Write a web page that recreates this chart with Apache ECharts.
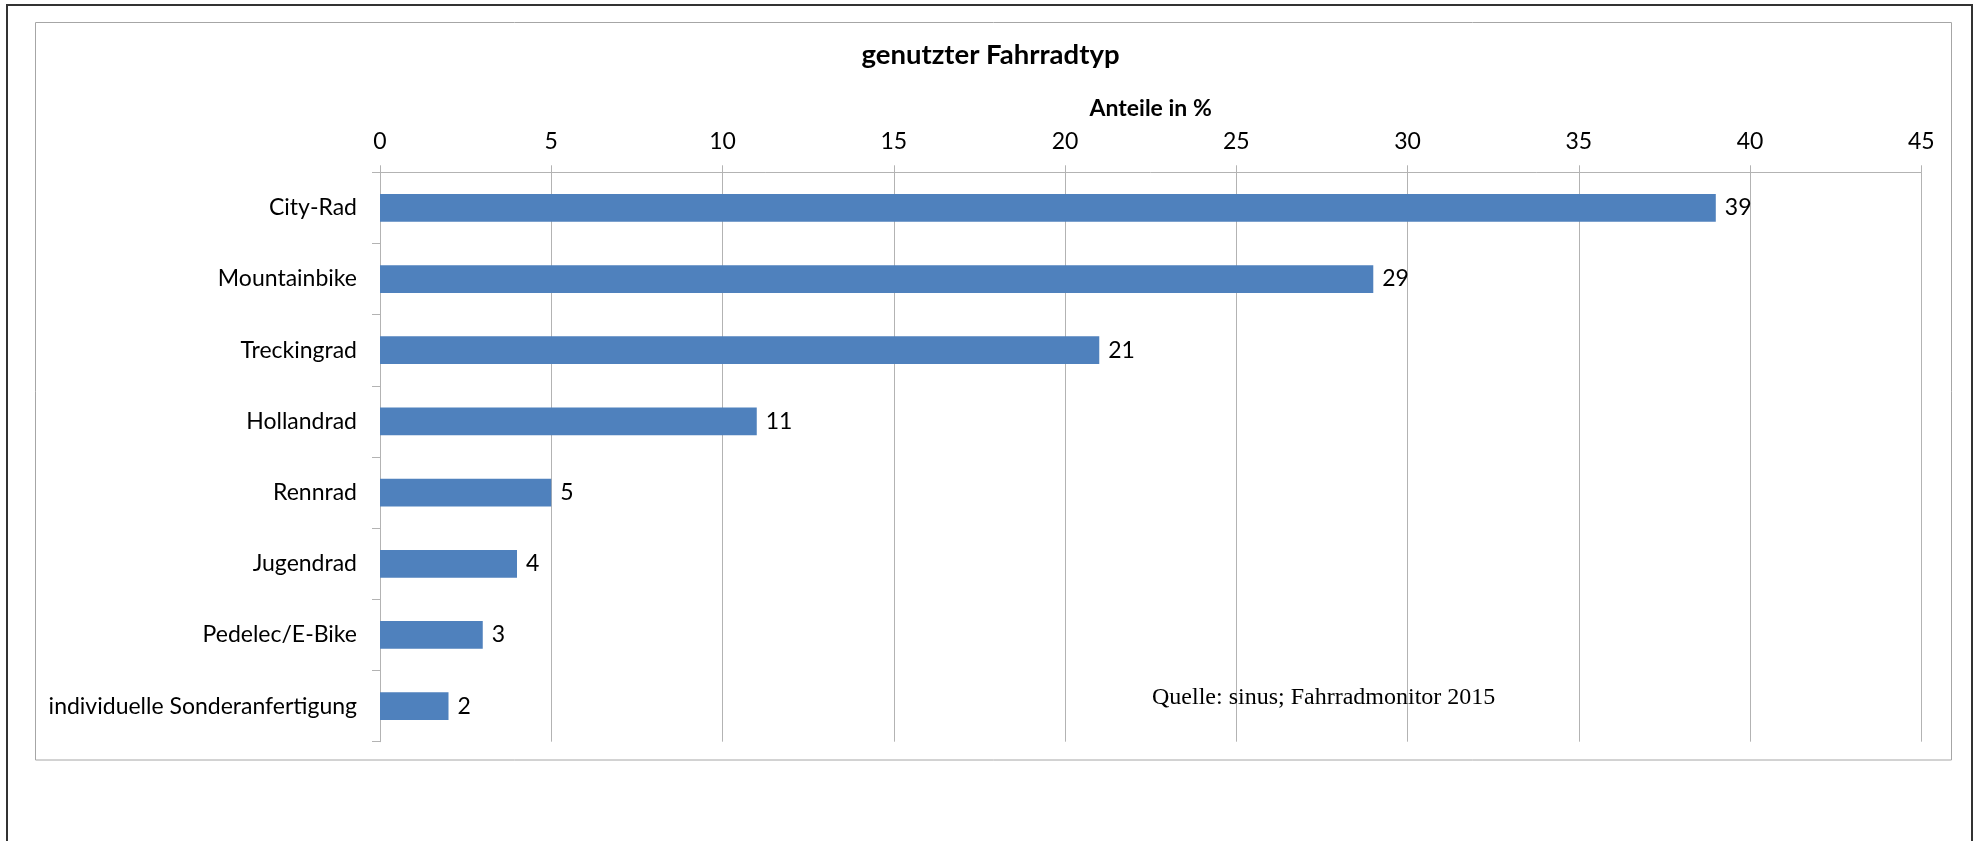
<!DOCTYPE html>
<html>
<head>
<meta charset="utf-8">
<script src="https://cdn.jsdelivr.net/npm/echarts@6/dist/echarts.min.js"></script>
<style>
html,body{margin:0;padding:0;background:#fff;}
#chart{width:1981px;height:841px;}
</style>
</head>
<body>
<div id="chart"></div>
<script>
const categories = ['City-Rad','Mountainbike','Treckingrad','Hollandrad','Rennrad','Jugendrad','Pedelec/E-Bike','individuelle Sonderanfertigung'];
const values = [39, 29, 21, 11, 5, 4, 3, 2];
const titleText = 'genutzter Fahrradtyp';
const axisName = 'Anteile in %';
const sourceText = 'Quelle: sinus; Fahrradmonitor 2015';

const FONT = 'Lato';
const chart = echarts.init(document.getElementById('chart'), null, {renderer:'canvas'});
chart.setOption({
  backgroundColor:'#fff',
  animation:false,
  title:{
    text:titleText, left:'center', top:41, padding:0,
    textStyle:{fontFamily:FONT, fontWeight:'bold', fontSize:27.5, color:'#000'}
  },
  grid:{left:380, right:59.7, top:172.3, bottom:99.3, containLabel:false},
  xAxis:{
    type:'value', position:'top', min:0, max:45, interval:5,
    name:axisName, nameLocation:'middle', nameGap:52,
    nameTextStyle:{fontFamily:FONT, fontWeight:'bold', fontSize:23, color:'#000'},
    axisLine:{show:true, lineStyle:{color:'#b3b3b3', width:1}},
    axisTick:{show:true, length:7, inside:false, lineStyle:{color:'#b3b3b3'}},
    axisLabel:{margin:19, fontFamily:FONT, fontSize:23, color:'#000'},
    splitLine:{show:true, lineStyle:{color:'#b3b3b3', width:1}}
  },
  yAxis:{
    type:'category', data:categories, inverse:true,
    axisLine:{show:true, lineStyle:{color:'#b3b3b3', width:1}},
    axisTick:{show:true, length:8, inside:false, lineStyle:{color:'#b3b3b3'}},
    axisLabel:{margin:23, fontFamily:FONT, fontSize:23, color:'#000'},
    splitLine:{show:false}
  },
  series:[{
    type:'bar', data:values, barWidth:'39%',
    itemStyle:{color:'#4f81bd'},
    label:{show:true, position:'right', distance:9, fontFamily:FONT, fontSize:23, color:'#000'}
  }],
  graphic:[
    {type:'rect', silent:true, z:-1, shape:{x:7, y:5, width:1965, height:900}, style:{fill:'none', stroke:'#333', lineWidth:2}},
    {type:'rect', silent:true, z:-1, shape:{x:35.5, y:22.5, width:1916, height:737.5}, style:{fill:'none', stroke:'#a6a6a6', lineWidth:1}},
    {type:'text', silent:true, z:10, x:1152, y:698, style:{text:sourceText, fontFamily:'Liberation Serif', fontSize:24, fill:'#000', textVerticalAlign:'middle', verticalAlign:'middle'}}
  ]
});
</script>
</body>
</html>
